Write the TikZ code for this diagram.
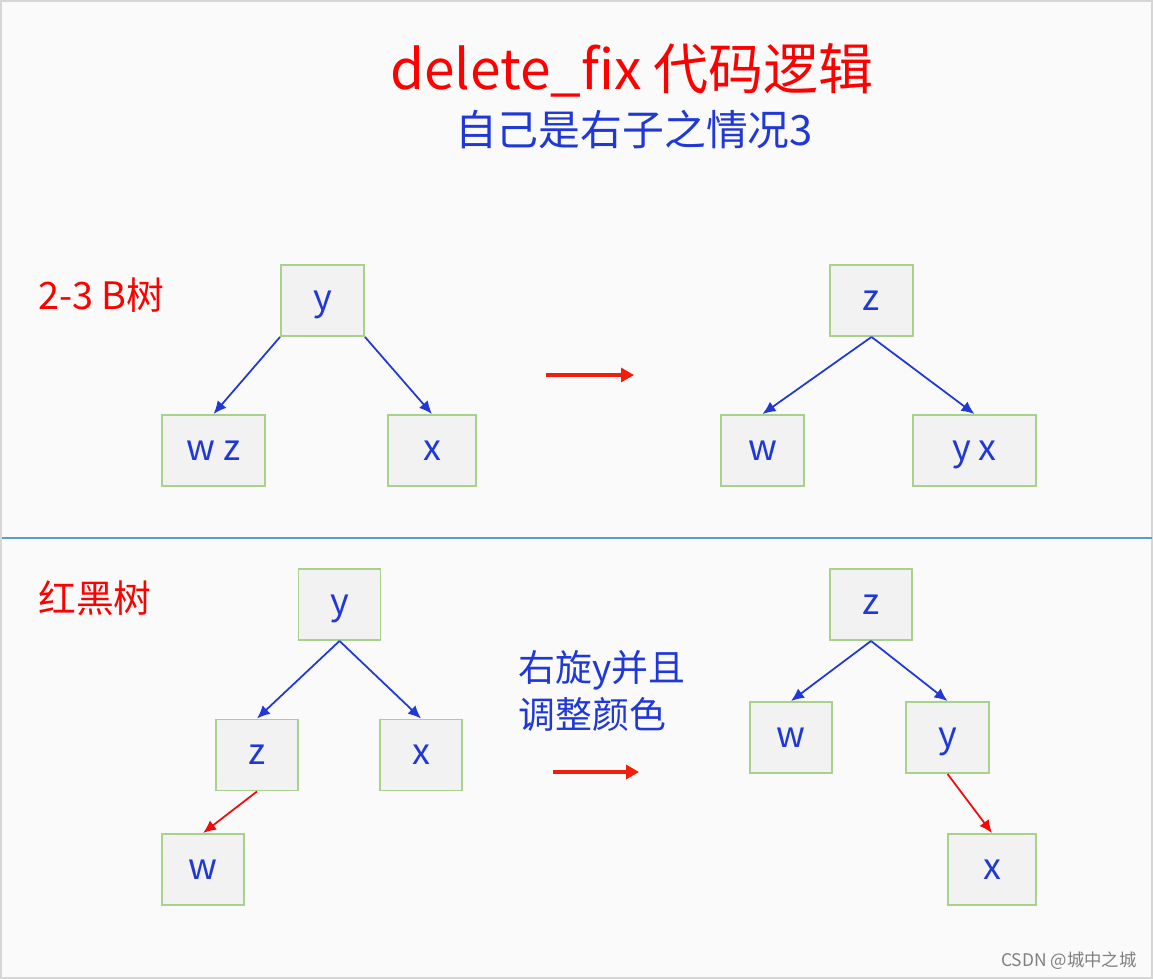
\documentclass[tikz,border=0pt]{standalone}
\usepackage{fontspec}
\setmainfont{Noto Sans CJK SC}
\usetikzlibrary{arrows.meta}
\definecolor{bggray}{RGB}{250,250,250}
\definecolor{framegray}{RGB}{214,214,214}
\definecolor{textblue}{RGB}{32,56,214}
\definecolor{linkred}{RGB}{245,10,10}
\definecolor{arrowred}{RGB}{240,30,10}
\definecolor{boxgreen}{RGB}{169,209,142}
\definecolor{boxgray}{RGB}{242,242,242}
\definecolor{sepblue}{RGB}{91,155,213}
\tikzset{
  box/.style={draw=boxgreen,fill=boxgray,line width=1.1pt,inner sep=0pt,
    minimum width=1.66cm,minimum height=1.42cm,text=textblue,
    text height=12pt,text depth=0.7pt,
    font=\fontsize{20.5}{20.5}\selectfont},
  link/.style={draw=textblue,line width=1pt,-{Latex[length=2.6mm,width=2.3mm]}},
  redlink/.style={link,draw=linkred},
  bigarrow/.style={draw=arrowred,line width=2.3pt,-{Triangle[length=2.6mm,width=2.8mm]}}
}
\begin{document}
\begin{tikzpicture}[x=0.02cm,y=-0.02cm]
\useasboundingbox (0,0) rectangle (1153,979);
\draw[fill=bggray,draw=framegray,line width=1.1pt] (1,1) rectangle (1152,978);
\draw[sepblue,line width=1.1pt] (2,538) -- (1152,538);

\node[text=red,font=\fontsize{31.3}{31.3}\selectfont] (title) at (632,70) {delete\_fix 代码逻辑};
\node[text=textblue,font=\fontsize{23.8}{23.8}\selectfont] (subtitle) at (634,130) {自己是右子之情况3};
\node[text=red,font=\fontsize{21.5}{21.5}\selectfont,anchor=west,inner sep=0pt] (btree) at (38,295) {2-3 B树};
\node[text=red,font=\fontsize{21.5}{21.5}\selectfont,anchor=west,inner sep=0pt] (rbtree) at (38,598) {红黑树};
\node[text=textblue,font=\fontsize{21}{26.6}\selectfont,anchor=west,align=left,inner sep=0pt] (rotate) at (518,691) {右旋y并且\\调整颜色};
\node[text=gray,font=\fontsize{9.9}{9.9}\selectfont,anchor=east,inner sep=0pt] (mark) at (1137,961) {CSDN @城中之城};

\node[box] (ty) at (322.5,300.5) {y};
\node[box,minimum width=2.06cm] (twz) at (213.5,450.5) {w z};
\node[box,minimum width=1.76cm] (tx) at (432,450.5) {x};
\draw[link] (ty.south west) -- (twz.north);
\draw[link] (ty.south east) -- (tx.north);

\node[box] (tz2) at (871.5,300.5) {z};
\node[box] (tw2) at (762.5,450.5) {w};
\node[box,minimum width=2.46cm] (tyx2) at (974.5,450.5) {y x};
\draw[link] (tz2.south) -- (tw2.north);
\draw[link] (tz2.south) -- (tyx2.north);

\coordinate (a1s) at (546,375);
\coordinate (a1e) at (634,375);
\draw[bigarrow] (a1s) -- (a1e);

\node[box,minimum width=1.64cm] (by) at (339.5,604.5) {y};
\node[box,minimum width=1.64cm] (bz) at (257,755) {z};
\node[box,minimum width=1.64cm] (bx) at (421,755) {x};
\node[box,minimum width=1.64cm] (bw) at (203,869.5) {w};
\draw[link] (by.south) -- (bz.north);
\draw[link] (by.south) -- (bx.north);
\draw[redlink] (bz.south) -- (bw.north);

\coordinate (a2s) at (553,772);
\coordinate (a2e) at (639,772);
\draw[bigarrow] (a2s) -- (a2e);

\node[box,minimum width=1.64cm] (bz2) at (871,604.5) {z};
\node[box,minimum width=1.64cm] (bw2) at (791,737.5) {w};
\node[box] (by2) at (947.5,737.5) {y};
\node[box,minimum width=1.76cm] (bx2) at (992,869.5) {x};
\draw[link] (bz2.south) -- (bw2.north);
\draw[link] (bz2.south) -- (by2.north);
\draw[redlink] (by2.south) -- (bx2.north);
\end{tikzpicture}
\end{document}
